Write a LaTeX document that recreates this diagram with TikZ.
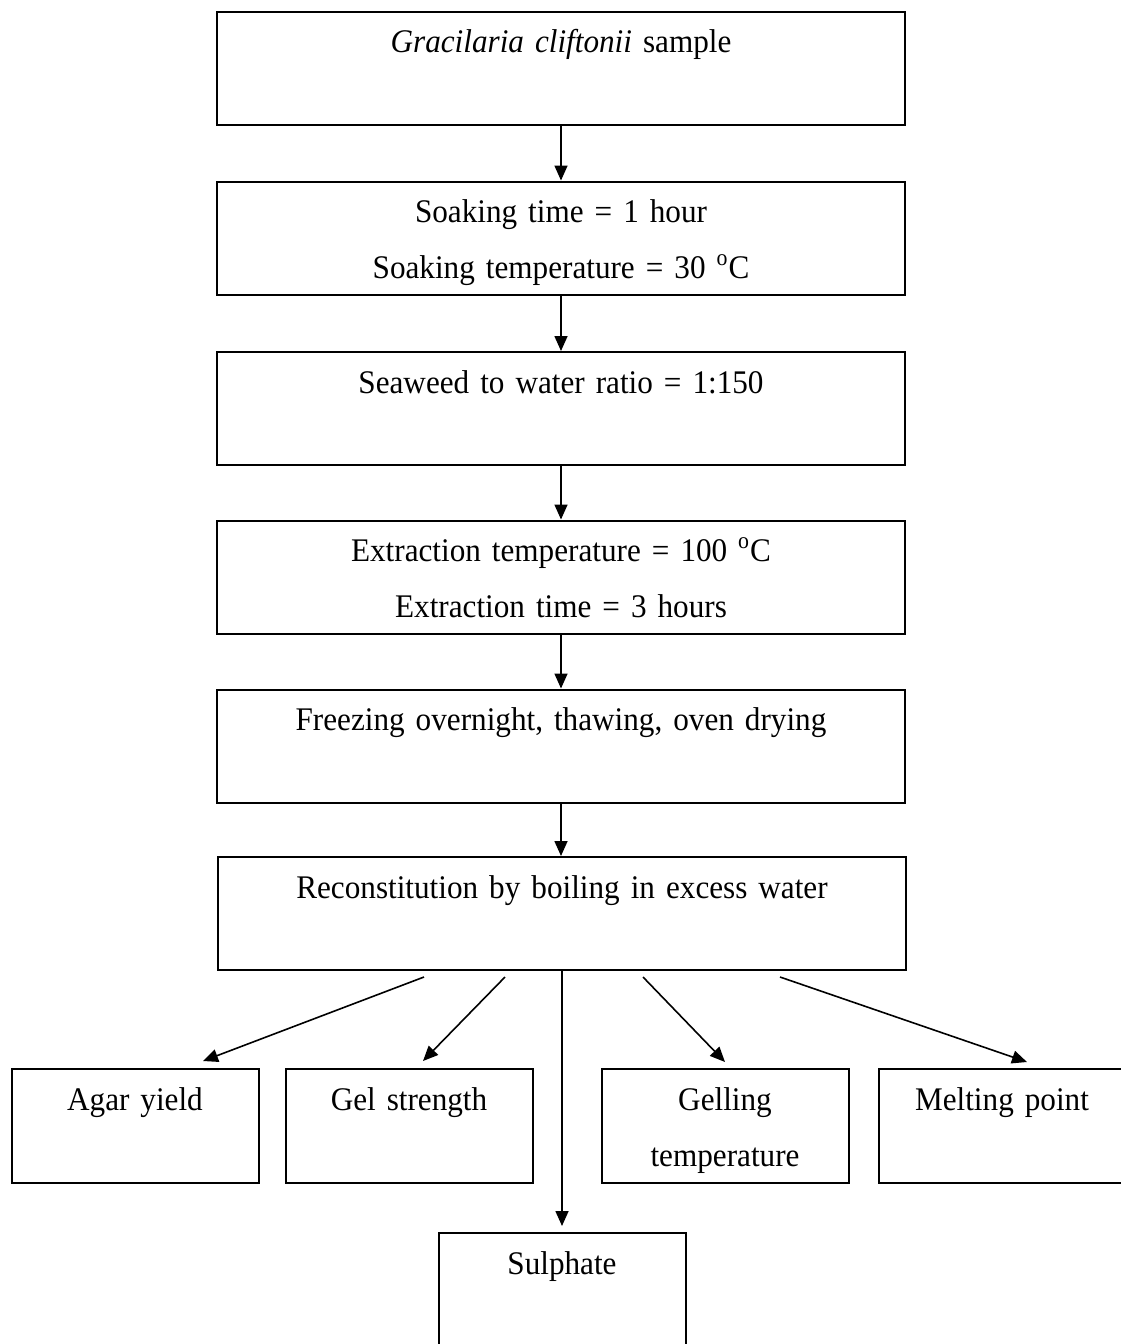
\documentclass[tikz,border=0pt]{standalone}
\usepackage{fontspec}
\setmainfont{Liberation Serif}[FakeStretch=0.945]
\usetikzlibrary{arrows.meta}

\begin{document}
\begin{tikzpicture}[x=0.5pt,y=-0.5pt]
  \tikzstyle{StepBox}=[draw,line width=1pt,inner sep=0pt,align=center,
                       text height=20.5pt,font=\fontsize{16.5}{28}\selectfont]
  \tikzstyle{MainBox}=[StepBox,text width=344pt,text depth=36pt]
  \tikzstyle{EndBox}=[StepBox,text width=123.5pt,text depth=36.5pt]
  \tikzstyle{Flow}=[line width=0.8pt,-{Triangle[length=7.5pt,width=6.5pt]}]
  \useasboundingbox (0,0) rectangle (1120,1344);
  % main chain
  \node[MainBox] (sample)  at (561,68)    {\textit{Gracilaria cliftonii} sample};
  \node[MainBox] (soak)    at (561,238)   {Soaking time = 1 hour\\Soaking temperature = 30 \textsuperscript{o}C};
  \node[MainBox] (ratio)   at (561,408.5) {Seaweed to water ratio = 1:150};
  \node[MainBox] (extract) at (561,577)   {Extraction temperature = 100 \textsuperscript{o}C\\Extraction time = 3 hours};
  \node[MainBox] (dry)     at (561,746)   {Freezing overnight, thawing, oven drying};
  \node[MainBox] (recon)   at (562,913.5) {Reconstitution by boiling in excess water};
  % analyses
  \node[EndBox] (agar)     at (135,1126)  {Agar yield};
  \node[EndBox] (gel)      at (409,1126)  {Gel strength};
  \node[EndBox] (gelling)  at (725,1126)  {Gelling\\temperature};
  \node[EndBox] (melt)     at (1002,1126) {Melting point};
  \node[EndBox] (sulphate) at (562,1290)  {Sulphate};
  \draw[Flow] (sample) -- (soak);
  \draw[Flow] (soak) -- (ratio);
  \draw[Flow] (ratio) -- (extract);
  \draw[Flow] (extract) -- (dry);
  \draw[Flow] (dry.south) -- (dry.south |- recon.north);
  % fan out
  \coordinate (fa) at (424,977);
  \coordinate (fb) at (505,977);
  \coordinate (fd) at (643,977);
  \coordinate (fe) at (780,977);
  \draw[Flow] (fa) -- ([xshift=34pt,yshift=3.5pt]agar.north);
  \draw[Flow] (fb) -- ([xshift=7pt,yshift=3.5pt]gel.north);
  \draw[Flow] (recon.south) -- ([yshift=3pt]sulphate.north);
  \draw[Flow] (fd) -- ([yshift=3pt]gelling.north);
  \draw[Flow] (fe) -- ([xshift=12.5pt,yshift=3pt]melt.north);
\end{tikzpicture}
\end{document}
